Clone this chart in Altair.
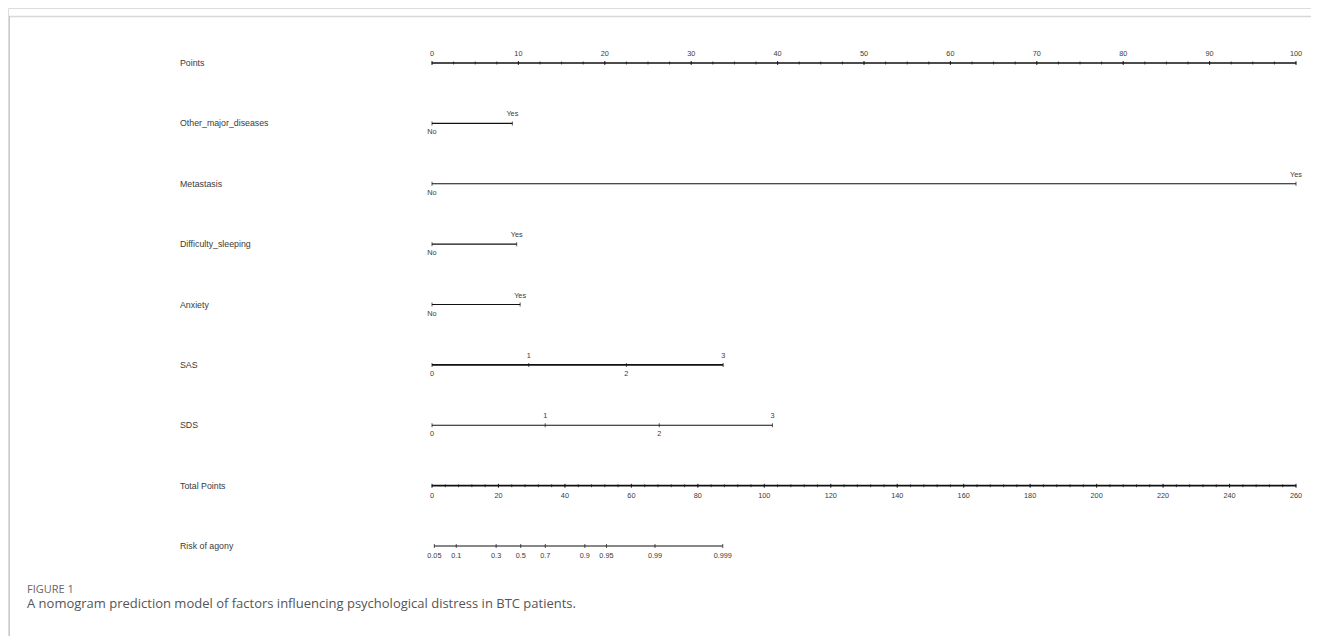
import altair as alt
import pandas as pd

# ---------------- data ----------------
variables = ["Points", "Other_major_diseases", "Metastasis", "Difficulty_sleeping",
             "Anxiety", "SAS", "SDS", "Total Points", "Risk of agony"]
row_index = list(range(len(variables)))

points_major = list(range(0, 101, 10))
points_minor = [i * 2.5 for i in range(41)]

binary_vars = ["Other_major_diseases", "Metastasis", "Difficulty_sleeping", "Anxiety"]
binary_levels = ["No", "Yes"]
binary_yes_points = [9.3, 100.0, 9.8, 10.2]

sas_levels = ["0", "1", "2", "3"]
sas_points = [0.0, 11.2, 22.5, 33.7]
sds_levels = ["0", "1", "2", "3"]
sds_points = [0.0, 13.1, 26.3, 39.4]

total_major = list(range(0, 261, 20))
total_minor = list(range(0, 261, 4))

risk_labels = ["0.05", "0.1", "0.3", "0.5", "0.7", "0.9", "0.95", "0.99", "0.999"]
risk_total_points = [0.7, 7.3, 19.3, 26.7, 34.1, 46.0, 52.5, 67.1, 87.5]

caption_head = "FIGURE 1"
caption_text = "A nomogram prediction model of factors influencing psychological distress in BTC patients."

# ---------------- tables ----------------
row_of = dict(zip(variables, row_index))

seg_pts, tick_pts, lab_above, lab_below = [], [], [], []
seg_pts.append({"row": row_of["Points"], "x": 0, "x2": 100, "sw": 1.6})
for v in points_minor:
    tick_pts.append({"row": row_of["Points"], "x": v, "size": 3})
for v in points_major:
    tick_pts.append({"row": row_of["Points"], "x": v, "size": 4})
    lab_above.append({"row": row_of["Points"], "x": v, "t": str(v)})

for name, yes in zip(binary_vars, binary_yes_points):
    r = row_of[name]
    seg_pts.append({"row": r, "x": 0, "x2": yes, "sw": 1.1})
    tick_pts.append({"row": r, "x": 0, "size": 4})
    tick_pts.append({"row": r, "x": yes, "size": 4})
    lab_below.append({"row": r, "x": 0, "t": binary_levels[0]})
    lab_above.append({"row": r, "x": yes, "t": binary_levels[1]})

for name, levels, pts, sw in [("SAS", sas_levels, sas_points, 1.8),
                              ("SDS", sds_levels, sds_points, 1.2)]:
    r = row_of[name]
    seg_pts.append({"row": r, "x": pts[0], "x2": pts[-1], "sw": sw})
    for i, (lv, p) in enumerate(zip(levels, pts)):
        tick_pts.append({"row": r, "x": p, "size": 4})
        (lab_above if i % 2 else lab_below).append({"row": r, "x": p, "t": lv})

seg_tot, tick_tot, lab_tot = [], [], []
seg_tot.append({"row": row_of["Total Points"], "x": 0, "x2": 260, "sw": 1.8})
for v in total_minor:
    tick_tot.append({"row": row_of["Total Points"], "x": v, "size": 3})
for v in total_major:
    tick_tot.append({"row": row_of["Total Points"], "x": v, "size": 4})
    lab_tot.append({"row": row_of["Total Points"], "x": v, "t": str(v)})
r = row_of["Risk of agony"]
seg_tot.append({"row": r, "x": risk_total_points[0], "x2": risk_total_points[-1], "sw": 1.2})
for lv, p in zip(risk_labels, risk_total_points):
    tick_tot.append({"row": r, "x": p, "size": 4})
    lab_tot.append({"row": r, "x": p, "t": lv})

names_df = pd.DataFrame({"row": row_index, "name": variables})

# ---------------- scales ----------------
FONT = "Liberation Sans"
TXT = "#3a3a3a"
X_RANGE = [424, 1288]
pts_scale = alt.Scale(domain=[0, 100], range=X_RANGE, nice=False, zero=False)
tot_scale = alt.Scale(domain=[0, 260], range=X_RANGE, nice=False, zero=False)
y_enc = alt.Y("row:Q", scale=alt.Scale(domain=[0, 8], range=[55, 538], nice=False, zero=False), axis=None)


def xpts(f="x"):
    return alt.X(f"{f}:Q", scale=pts_scale, axis=None)


def xtot(f="x"):
    return alt.X(f"{f}:Q", scale=tot_scale, axis=None)


layers = []
layers.append(alt.Chart(pd.DataFrame(seg_pts)).mark_rule(color="#111").encode(
    x=xpts(), x2="x2:Q", y=y_enc, strokeWidth=alt.StrokeWidth("sw:Q", scale=None)))
layers.append(alt.Chart(pd.DataFrame(seg_tot)).mark_rule(color="#111").encode(
    x=xtot(), x2="x2:Q", y=y_enc, strokeWidth=alt.StrokeWidth("sw:Q", scale=None)))
layers.append(alt.Chart(pd.DataFrame(tick_pts)).mark_tick(orient="vertical", thickness=1, color="#111").encode(
    x=xpts(), y=y_enc, size=alt.Size("size:Q", scale=None)))
layers.append(alt.Chart(pd.DataFrame(tick_tot)).mark_tick(orient="vertical", thickness=1, color="#111").encode(
    x=xtot(), y=y_enc, size=alt.Size("size:Q", scale=None)))
layers.append(alt.Chart(pd.DataFrame(lab_above)).mark_text(dy=-9, font=FONT, fontSize=7.3, color=TXT).encode(
    x=xpts(), y=y_enc, text="t:N"))
layers.append(alt.Chart(pd.DataFrame(lab_below)).mark_text(dy=9, font=FONT, fontSize=7.3, color=TXT).encode(
    x=xpts(), y=y_enc, text="t:N"))
layers.append(alt.Chart(pd.DataFrame(lab_tot)).mark_text(dy=10, font=FONT, fontSize=7.3, color=TXT).encode(
    x=xtot(), y=y_enc, text="t:N"))
layers.append(alt.Chart(names_df).mark_text(align="left", font=FONT, fontSize=8.8, color=TXT).encode(
    x=alt.value(172), y=y_enc, text="name:N"))

cap_df = pd.DataFrame({"t": [caption_head, caption_text], "k": ["h", "c"]})
layers.append(alt.Chart(cap_df).transform_filter(alt.datum.k == "h").mark_text(
    align="left", baseline="middle", font="Open Sans", fontSize=11, color="#666").encode(
    x=alt.value(19), y=alt.value(582), text="t:N"))
layers.append(alt.Chart(cap_df).transform_filter(alt.datum.k == "c").mark_text(
    align="left", baseline="middle", font="Open Sans", fontSize=13, color="#555").encode(
    x=alt.value(19), y=alt.value(596), text="t:N"))

# light figure frame (top and left edges)
frame_df = pd.DataFrame({"k": [1]})
layers.append(alt.Chart(frame_df).mark_rule(color="#d8d8d8", strokeWidth=1.5).encode(
    x=alt.value(1), x2=alt.value(1303), y=alt.value(8.5)))
layers.append(alt.Chart(frame_df).mark_rule(color="#c8c8c8", strokeWidth=1).encode(
    x=alt.value(1.5), y=alt.value(8), y2=alt.value(628)))

chart = alt.layer(*layers).resolve_scale(x="independent").properties(
    width=1303, height=628, padding=0, autosize=alt.AutoSizeParams(type="none")
).configure_view(strokeWidth=0, stroke="transparent").configure(background="white")

chart.save("out.html", embed_options={"renderer": "svg", "actions": False})
